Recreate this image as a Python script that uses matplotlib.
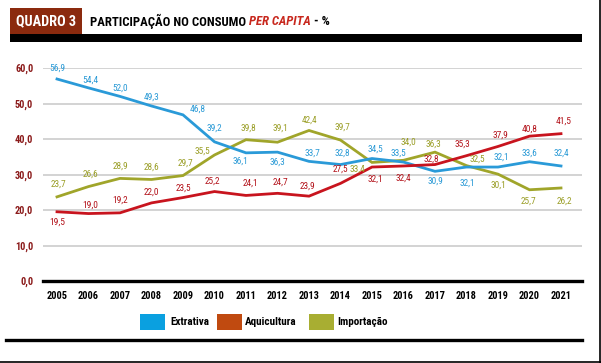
import matplotlib
matplotlib.use("Agg")
import matplotlib.pyplot as plt
from matplotlib.patches import Rectangle
from matplotlib.lines import Line2D

plt.rcParams['font.family'] = ['Roboto Condensed', 'Liberation Sans Narrow', 'Open Sans Condensed',
                               'DejaVu Sans']
plt.rcParams['font.stretch'] = 'condensed'

years = list(range(2005, 2022))
extrativa = [56.9, 54.4, 52.0, 49.3, 46.8, 39.2, 36.1, 36.3, 33.7, 32.8, 34.5, 33.5, 30.9, 32.1, 32.1, 33.6, 32.4]
aquicultura = [19.5, 19.0, 19.2, 22.0, 23.5, 25.2, 24.1, 24.7, 23.9, 27.5, 32.1, 32.4, 32.8, 35.3, 37.9, 40.8, 41.5]
importacao = [23.7, 26.6, 28.9, 28.6, 29.7, 35.5, 39.8, 39.1, 42.4, 39.7, 33.4, 34.0, 36.3, 32.5, 30.1, 25.7, 26.2]
series_names = ["Extrativa", "Aquicultura", "Importação"]
yticks = [0, 10, 20, 30, 40, 50, 60]

# label offsets in pixels (style only)
off_ext = [(0, 11), (2, 8), (0, 8), (0, 9), (15, 6), (0, 14), (-6, -8), (0, -10), (3, 8), (2, 11),
           (3, 9), (-5, 9), (0, -10), (1, -16), (3, 10), (0, 9), (0, 13)]
off_aq = [(0, -10), (2, 8), (0, 13), (0, 11), (0, 9), (-2, 10), (4, 12), (3, 11), (-2, 10), (0, 14),
          (3, -12), (0, -12), (-4, 5), (-4, 11), (2, 11), (0, 7), (3, 12)]
off_imp = [(1, 13), (2, 12), (0, 12), (0, 12), (2, 12), (-12, 4), (2, 12), (3, 14), (1, 10), (2, 13),
           (-15, -7), (5, 18), (-2, 8), (11, 6), (0, -11), (-1, -11), (3, -13)]

line_colors = ["#2A9AD8", "#C8141E", "#A0A52A"]
label_colors = ["#2A9AD6", "#B3121A", "#9A9E26"]
patch_colors = ["#0AA0E0", "#C04A10", "#A8AE32"]

W, H = 601, 363
fig = plt.figure(figsize=(W / 100, H / 100), dpi=100)
fig.canvas.draw()
r = fig.canvas.get_renderer()

def fx(px):
    return px / W

def fy(py):
    return 1 - py / H

def fit(t, target_w):
    w = t.get_window_extent(r).width
    if w > target_w:
        t.set_fontsize(t.get_fontsize() * target_w / w)
    return t

# Title box
fig.patches.append(Rectangle((fx(10), fy(34)), fx(72), 26 / H, transform=fig.transFigure,
                             facecolor="#8B2A0E", edgecolor="none"))
tq = fig.text(fx(46), fy(21.5), "QUADRO 3", color="white", fontsize=12, fontweight="bold",
              ha="center", va="center")
fit(tq, 60)
title_parts = [("PARTICIPAÇÃO NO CONSUMO ", "black", "normal"),
               ("PER CAPITA", "#C8281E", "italic"),
               (" - %", "black", "normal")]
tmp = fig.text(0, 0, "".join(p[0] for p in title_parts), fontsize=12, fontweight="bold")
wfull = tmp.get_window_extent(r).width
tsize = 12 * min(1.0, 240 / wfull)
tmp.remove()
xcur = 90
for txt, col, sty in title_parts:
    t = fig.text(fx(xcur), fy(21.5), txt, color=col, fontsize=tsize, fontweight="bold",
                 fontstyle=sty, ha="left", va="center")
    xcur = t.get_window_extent(r).x1
# black bar under title
fig.patches.append(Rectangle((fx(10), fy(42)), fx(572), 8 / H, transform=fig.transFigure,
                             facecolor="black", edgecolor="none"))
# bottom separator
fig.lines.append(Line2D([fx(6), fx(582)], [fy(339.5), fy(339.5)], transform=fig.transFigure,
                        color="black", lw=2.4))
# frame edges
fig.lines.append(Line2D([fx(599.5), fx(599.5)], [0, 1], transform=fig.transFigure, color="black", lw=1.2))
fig.lines.append(Line2D([0, 1], [fy(361.5), fy(361.5)], transform=fig.transFigure, color="black", lw=1.2))

ax = fig.add_axes([fx(43), fy(281), 539 / W, 213 / H])
x0 = years[0] - 14 / 31.5
x1 = years[-1] + 21 / 31.5
ax.set_xlim(x0, x1)
ax.set_ylim(0, 60)
for s in ax.spines.values():
    s.set_visible(False)
for v in yticks[1:]:
    ax.axhline(v, color="#D0D0D0", lw=1.3, zorder=1)
ax.axhline(0, color="black", lw=2.4, zorder=2, clip_on=False)

ax.set_yticks(yticks)
ax.set_yticklabels([f"{v:.1f}".replace(".", ",") for v in yticks], color="#8B1A1A",
                   fontsize=7.5, fontweight="bold")
ax.set_xticks(years)
ax.set_xticklabels([str(y) for y in years], fontsize=7.5, fontweight="bold", color="black")
ax.tick_params(axis="both", length=0)
ax.tick_params(axis="y", pad=7)
ax.tick_params(axis="x", pad=7)
fig.canvas.draw()
for lab in ax.get_xticklabels():
    fit(lab, 22)
for lab in ax.get_yticklabels():
    fit(lab, 18)

all_series = [extrativa, aquicultura, importacao]
all_offs = [off_ext, off_aq, off_imp]
zorders = [4, 5, 3]
for vals, offs, lc, tc, z in zip(all_series, all_offs, line_colors, label_colors, zorders):
    ax.plot(years, vals, color=lc, lw=2.0, zorder=z, solid_joinstyle="miter")
    for xv, yv, (dx, dy) in zip(years, vals, offs):
        a = ax.annotate(f"{yv:.1f}".replace(".", ","), (xv, yv), xytext=(dx, dy),
                        textcoords="offset pixels", ha="center", va="center",
                        fontsize=8, color=tc, zorder=6)
        fit(a, 16)

# legend
leg_items = [(140, 170, 40), (217, 245, 52), (309, 337, 52)]
for (px, tx, tw), name, pc in zip(leg_items, series_names, patch_colors):
    fig.patches.append(Rectangle((fx(px), fy(330)), fx(25), 16 / H, transform=fig.transFigure,
                                 facecolor=pc, edgecolor="none"))
    t = fig.text(fx(tx), fy(322), name, fontsize=8, fontweight="bold", ha="left", va="center")
    fit(t, tw)

fig.savefig("out.png", dpi=100)
